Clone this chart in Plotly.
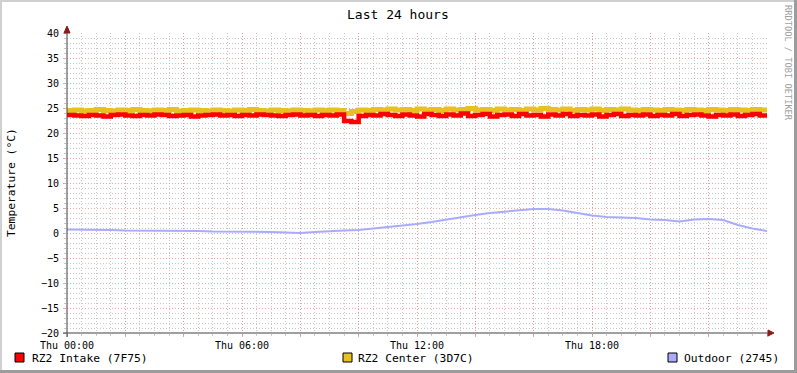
import plotly.graph_objects as go

# ---------------- data ----------------
tick_labels = ["Thu 00:00", "Thu 06:00", "Thu 12:00", "Thu 18:00"]
series_names = ["RZ2 Intake (7F75)", "RZ2 Center (3D7C)", "Outdoor (2745)"]
series_colors = ["#FF0000", "#E8C020", "#AAAAFF"]

# 15-minute samples, hours 0..24
intake = [
    23.6, 23.5, 23.4, 23.6, 23.5, 23.3, 23.6, 23.7, 23.5, 23.4,
    23.6, 23.5, 23.7, 23.6, 23.4, 23.5, 23.6, 23.3, 23.5, 23.6,
    23.7, 23.5, 23.6, 23.4, 23.6, 23.5, 23.7, 23.6, 23.5, 23.4,
    23.6, 23.7, 23.5, 23.6, 23.4, 23.6, 23.5, 23.7, 22.4, 22.2,
    23.4, 23.6, 23.5, 23.8, 23.6, 23.4, 23.7, 23.5, 23.3, 23.8,
    23.6, 23.4, 23.7, 23.5, 23.9, 23.4, 23.6, 23.8, 23.3, 23.6,
    23.7, 23.4, 23.8, 23.5, 23.6, 23.3, 23.7, 23.5, 23.8, 23.4,
    23.6, 23.5, 23.7, 23.3, 23.6, 23.8, 23.4, 23.6, 23.5, 23.7,
    23.4, 23.6, 23.5, 23.8, 23.4, 23.6, 23.7, 23.5, 23.3, 23.6,
    23.5, 23.7, 23.4, 23.6, 23.8, 23.5, 23.6,
]
center = [
    24.5, 24.6, 24.4, 24.5, 24.7, 24.5, 24.4, 24.6, 24.5, 24.7,
    24.5, 24.4, 24.6, 24.5, 24.7, 24.4, 24.5, 24.6, 24.5, 24.4,
    24.6, 24.5, 24.4, 24.6, 24.5, 24.7, 24.5, 24.4, 24.6, 24.5,
    24.4, 24.6, 24.5, 24.4, 24.6, 24.5, 24.6, 24.5, 23.9, 24.3,
    24.6, 24.5, 24.7, 24.6, 24.8, 24.6, 24.7, 24.5, 24.8, 24.6,
    24.7, 24.5, 24.8, 24.6, 24.7, 24.9, 24.6, 24.7, 24.5, 24.8,
    24.6, 24.7, 24.5, 24.8, 24.6, 24.9, 24.7, 24.6, 24.8, 24.5,
    24.7, 24.6, 24.8, 24.5, 24.7, 24.6, 24.8, 24.6, 24.5, 24.7,
    24.6, 24.5, 24.7, 24.6, 24.5, 24.7, 24.6, 24.5, 24.7, 24.6,
    24.5, 24.7, 24.6, 24.5, 24.7, 24.6, 24.6,
]
# 30-minute samples, hours 0..24
outdoor = [
    0.7, 0.7, 0.6, 0.6, 0.5, 0.5, 0.4, 0.4, 0.4, 0.4,
    0.3, 0.3, 0.3, 0.2, 0.2, 0.1, 0.0, 0.2, 0.4, 0.5,
    0.6, 0.9, 1.1, 1.4, 1.8, 2.2, 2.7, 3.1, 3.6, 4.0,
    4.3, 4.6, 4.8, 4.8, 4.5, 4.0, 3.5, 3.2, 3.1, 3.0,
    2.7, 2.6, 2.3, 2.7, 2.8, 2.6, 1.6, 0.9, 0.4,
]
hours_15 = [i * 0.25 for i in range(len(intake))]
hours_30 = [i * 0.5 for i in range(len(outdoor))]

# ---------------- layout geometry (pixels) ----------------
W, H = 797, 373
PL, PR, PT, PB = 67, 767, 33, 333
def px(x):
    return (x - PL) / (PR - PL)
def py(y):
    return (PB - y) / (PB - PT)

FONT = "DejaVu Sans Mono"
MAJOR = "rgba(230,140,140,0.75)"
MINOR = "rgba(175,175,175,0.7)"
DASH = "1px,2px"

fig = go.Figure()
fig.add_trace(go.Scatter(x=hours_15, y=center, mode="lines",
                         line=dict(color=series_colors[1], width=5, shape="hv"),
                         name=series_names[1]))
fig.add_trace(go.Scatter(x=hours_30, y=outdoor, mode="lines",
                         line=dict(color=series_colors[2], width=2),
                         name=series_names[2]))
fig.add_trace(go.Scatter(x=hours_15, y=intake, mode="lines",
                         line=dict(color=series_colors[0], width=4.5, shape="hv"),
                         name=series_names[0]))

xt = list(range(0, 25, 2))
xtext = [tick_labels[v // 6] if v % 6 == 0 and v < 24 else "" for v in xt]

fig.update_xaxes(
    range=[0, 24], tickmode="array", tickvals=xt, ticktext=xtext,
    showgrid=True, gridcolor=MAJOR, griddash=DASH, gridwidth=1,
    ticks="outside", ticklen=3, tickcolor=MAJOR,
    minor=dict(tickmode="linear", tick0=0, dtick=0.5, showgrid=True,
               gridcolor=MINOR, griddash=DASH, ticks="outside",
               ticklen=2, tickcolor=MINOR),
    showline=False, zeroline=False,
    tickfont=dict(family=FONT, size=10, color="black"),
    fixedrange=True,
)
fig.update_yaxes(
    range=[-20, 40], tickmode="linear", tick0=-20, dtick=5,
    showgrid=True, gridcolor=MAJOR, griddash=DASH, gridwidth=1,
    ticks="outside", ticklen=3, tickcolor=MAJOR,
    minor=dict(tickmode="linear", tick0=-20, dtick=1, showgrid=True,
               gridcolor=MINOR, griddash=DASH, ticks="outside",
               ticklen=2, tickcolor=MINOR),
    showline=False, zeroline=False,
    tickfont=dict(family=FONT, size=10, color="black"),
    ticklabelstandoff=2,
    fixedrange=True,
)

shapes = []
# frame: light top/left, dark right/bottom
shapes.append(dict(type="rect", xref="paper", yref="paper",
                   x0=px(0), x1=px(W), y0=py(0), y1=py(2),
                   fillcolor="#D0D0D0", line=dict(width=0), layer="above"))
shapes.append(dict(type="rect", xref="paper", yref="paper",
                   x0=px(0), x1=px(2), y0=py(0), y1=py(H),
                   fillcolor="#D0D0D0", line=dict(width=0), layer="above"))
shapes.append(dict(type="rect", xref="paper", yref="paper",
                   x0=px(W - 3), x1=px(W), y0=py(0), y1=py(H),
                   fillcolor="#9C9C9C", line=dict(width=0), layer="above"))
shapes.append(dict(type="rect", xref="paper", yref="paper",
                   x0=px(0), x1=px(W), y0=py(H - 3), y1=py(H),
                   fillcolor="#9C9C9C", line=dict(width=0), layer="above"))
# axes lines
shapes.append(dict(type="line", xref="paper", yref="paper",
                   x0=px(63), x1=px(769), y0=0, y1=0,
                   line=dict(color="#404040", width=1), layer="above"))
shapes.append(dict(type="line", xref="paper", yref="paper",
                   x0=0, x1=0, y0=py(337), y1=py(28),
                   line=dict(color="#404040", width=1), layer="above"))
# arrowheads
shapes.append(dict(type="path", xref="paper", yref="paper",
                   path=f"M {px(768)} {py(330)} L {px(774)} {py(333)} L {px(768)} {py(336)} Z",
                   fillcolor="#8B1A1A", line=dict(color="#8B1A1A", width=1), layer="above"))
shapes.append(dict(type="path", xref="paper", yref="paper",
                   path=f"M {px(64)} {py(33)} L {px(67)} {py(26)} L {px(70)} {py(33)} Z",
                   fillcolor="#8B1A1A", line=dict(color="#8B1A1A", width=1), layer="above"))

annotations = []
# legend
legend_sq = [15, 343, 668]
legend_tx = [30, 356, 682]
for i in range(3):
    shapes.append(dict(type="rect", xref="paper", yref="paper",
                       x0=px(legend_sq[i]), x1=px(legend_sq[i] + 9),
                       y0=py(362), y1=py(353),
                       fillcolor=series_colors[i], line=dict(color="black", width=1)))
    annotations.append(dict(xref="paper", yref="paper", x=px(legend_tx[i]), y=py(358),
                            xanchor="left", yanchor="middle", showarrow=False,
                            text=series_names[i],
                            font=dict(family=FONT, size=11.3, color="black")))
# title
annotations.append(dict(xref="paper", yref="paper", x=px(398), y=py(14),
                        xanchor="center", yanchor="middle", showarrow=False,
                        text="Last 24 hours",
                        font=dict(family=FONT, size=13, color="black")))
# y-axis title
annotations.append(dict(xref="paper", yref="paper", x=px(11), y=py(183),
                        xanchor="center", yanchor="middle", showarrow=False,
                        text="Temperature (°C)", textangle=-90,
                        font=dict(family=FONT, size=11.3, color="black")))
# watermark
annotations.append(dict(xref="paper", yref="paper", x=px(788), y=py(63),
                        xanchor="center", yanchor="middle", showarrow=False,
                        text="RRDTOOL / TOBI OETIKER", textangle=90,
                        font=dict(family=FONT, size=8.7, color="#A0A0A0")))

fig.update_layout(
    width=W, height=H,
    margin=dict(l=PL, r=W - PR, t=PT, b=H - PB, pad=0),
    paper_bgcolor="white", plot_bgcolor="white",
    showlegend=False,
    shapes=shapes, annotations=annotations,
)

fig.write_html("out.html")
